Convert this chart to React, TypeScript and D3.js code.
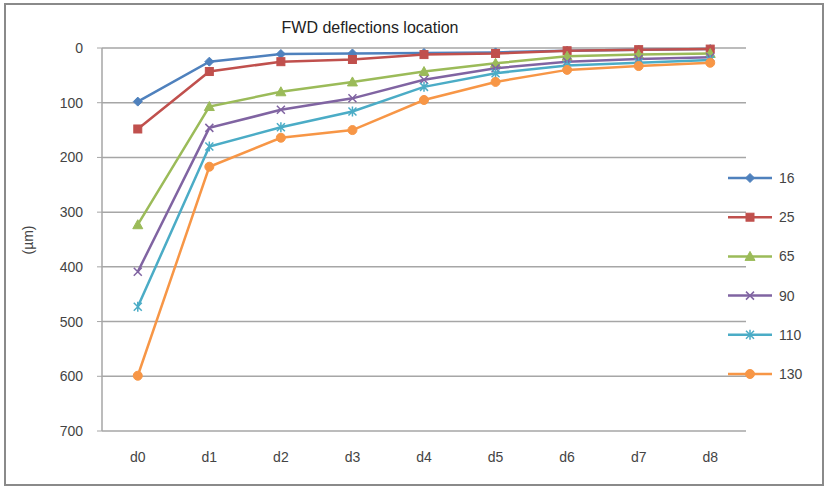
import React from "react";
import * as d3 from "d3";

const categories = ["d0", "d1", "d2", "d3", "d4", "d5", "d6", "d7", "d8"];
const seriesNames = ["16", "25", "65", "90", "110", "130"];
const s16 = [98, 25, 11, 10, 9, 8, 5, 3, 2];
const s25 = [148, 43, 25, 21, 12, 10, 5, 3, 2];
const s65 = [323, 107, 80, 62, 43, 28, 15, 12, 10];
const s90 = [409, 146, 113, 92, 58, 37, 25, 20, 17];
const s110 = [473, 180, 145, 116, 71, 46, 32, 27, 22];
const s130 = [599, 217, 164, 150, 95, 62, 40, 33, 27];
const yTicks = [0, 100, 200, 300, 400, 500, 600, 700];
const colors = ["#4F81BD", "#C0504D", "#9BBB59", "#8064A2", "#4BACC6", "#F79646"];
const markers = ["diamond", "square", "triangle", "x", "star", "circle"];

const W = 829, H = 490;
const L = 102, R = 746, T = 48, B = 431;

function Marker({ type, x, y, color }: { type: string; x: number; y: number; color: string }) {
  const s = 4.5;
  if (type === "diamond") return <path d={`M${x},${y - s} L${x + s},${y} L${x},${y + s} L${x - s},${y} Z`} fill={color} stroke={color} />;
  if (type === "square") return <rect x={x - 4} y={y - 4} width={8} height={8} fill={color} stroke={color} />;
  if (type === "triangle") return <path d={`M${x},${y - 5} L${x + 5},${y + 4} L${x - 5},${y + 4} Z`} fill={color} stroke={color} />;
  if (type === "x") return <path d={`M${x - 4},${y - 4} L${x + 4},${y + 4} M${x - 4},${y + 4} L${x + 4},${y - 4}`} stroke={color} strokeWidth={1.5} />;
  if (type === "star") return <path d={`M${x - 4},${y - 4} L${x + 4},${y + 4} M${x - 4},${y + 4} L${x + 4},${y - 4} M${x},${y - 5} L${x},${y + 5}`} stroke={color} strokeWidth={1.5} />;
  return <circle cx={x} cy={y} r={4.5} fill={color} stroke={color} />;
}

export default function App() {
  const data = [s16, s25, s65, s90, s110, s130];
  const x = d3.scalePoint<string>().domain(categories).range([L, R]).padding(0.5);
  const y = d3.scaleLinear().domain([0, 700]).range([T, B]);
  const line = d3.line<number>().x((_, i) => x(categories[i]) as number).y((d) => y(d));
  const font = "'Liberation Sans', Arial, sans-serif";
  const legY = d3.scaleLinear().domain([0, 5]).range([178, 374]);
  return (
    <svg width={W} height={H} style={{ position: "absolute", left: 0, top: 0 }} fontFamily={font}>
      <rect x={0} y={0} width={W} height={H} fill="#fff" />
      <rect x={5} y={4} width={818} height={481} fill="none" stroke="#8a8a8a" strokeWidth={2} />
      <text x={370} y={33} textAnchor="middle" fontSize={16} fill="#222">FWD deflections location</text>
      {yTicks.map((t) => (
        <g key={t}>
          {t > 0 && t < 700 && <line x1={L} x2={R} y1={y(t)} y2={y(t)} stroke="#a6a6a6" strokeWidth={1.5} />}
          <line x1={L - 5} x2={L} y1={y(t)} y2={y(t)} stroke="#a6a6a6" />
          <text x={83} y={y(t) + 5} textAnchor="end" fontSize={14} fill="#444">{t}</text>
        </g>
      ))}
      <line x1={L} x2={R} y1={y(0)} y2={y(0)} stroke="#a6a6a6" strokeWidth={1.5} />
      <line x1={L} x2={R} y1={B} y2={B} stroke="#a6a6a6" strokeWidth={1.5} />
      <line x1={L} x2={L} y1={T} y2={B} stroke="#a6a6a6" strokeWidth={1.5} />
      <text transform={`translate(33,240) rotate(-90)`} textAnchor="middle" fontSize={14} fill="#444">(µm)</text>
      {categories.map((c) => (
        <text key={c} x={x(c)} y={462} textAnchor="middle" fontSize={14} fill="#444">{c}</text>
      ))}
      {data.map((s, si) => (
        <g key={si}>
          <path d={line(s) || ""} fill="none" stroke={colors[si]} strokeWidth={2.5} />
          {s.map((v, i) => (
            <Marker key={i} type={markers[si]} x={x(categories[i]) as number} y={y(v)} color={colors[si]} />
          ))}
        </g>
      ))}
      {seriesNames.map((n, i) => (
        <g key={n}>
          <line x1={728} x2={772} y1={legY(i)} y2={legY(i)} stroke={colors[i]} strokeWidth={2.5} />
          <Marker type={markers[i]} x={750} y={legY(i)} color={colors[i]} />
          <text x={779} y={legY(i) + 5} fontSize={14} fill="#444">{n}</text>
        </g>
      ))}
    </svg>
  );
}
